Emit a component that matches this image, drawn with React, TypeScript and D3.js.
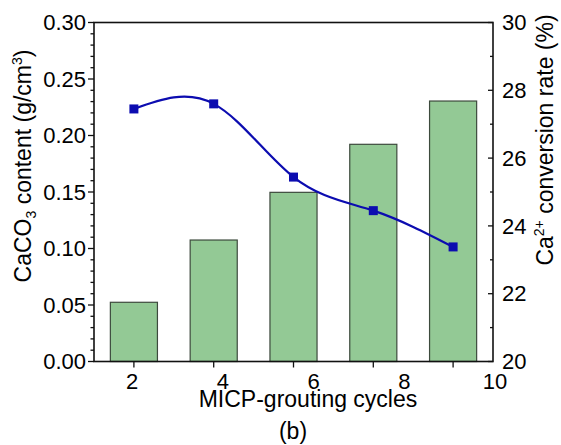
import React, { useRef, useEffect } from "react";
import * as d3 from "d3";

const cycles = [2, 4, 6, 8, 10];
const caco3Content = [0.0524, 0.1075, 0.1497, 0.1922, 0.2305];
const conversionRate = [27.45, 27.6, 25.44, 24.45, 23.38];
const leftTicks = [0, 0.05, 0.1, 0.15, 0.2, 0.25, 0.3];
const rightTicks = [20, 22, 24, 26, 28, 30];

const App = () => {
  const svgRef = useRef(null);

  const width = 561;
  const height = 445;
  const left = 94;
  const right = 493;
  const top = 22.5;
  const bottom = 361.5;
  const font = "Liberation Sans, Arial, sans-serif";

  useEffect(() => {
    if (!svgRef.current) return;
    const svg = d3.select(svgRef.current);
    svg.selectAll("*").remove();

    const x = d3
      .scaleBand<number>()
      .domain(cycles)
      .range([left, right])
      .paddingInner(0.41)
      .paddingOuter(0.205);

    // the tick labels in the original sit on their own spacing
    const xLabel = d3.scaleLinear().domain([2, 10]).range([132, 495]);

    const yLeft = d3.scaleLinear().domain([0, 0.3]).range([bottom, top]);
    const yRight = d3.scaleLinear().domain([20, 30]).range([bottom, top]);

    //bars
    svg
      .append("g")
      .selectAll("rect")
      .data(cycles)
      .enter()
      .append("rect")
      .attr("x", (d) => x(d)!)
      .attr("y", (d, i) => yLeft(caco3Content[i]))
      .attr("width", x.bandwidth())
      .attr("height", (d, i) => bottom - yLeft(caco3Content[i]))
      .style("fill", "#93c995")
      .style("stroke", "#3d4a3d")
      .style("stroke-width", 1.2);

    //frame
    svg
      .append("rect")
      .attr("x", left)
      .attr("y", top)
      .attr("width", right - left)
      .attr("height", bottom - top)
      .style("fill", "none")
      .style("stroke", "#111")
      .style("stroke-width", 1.6);

    //left axis ticks
    const leftMinor = d3.range(0, 0.3001, 0.01);
    svg
      .append("g")
      .selectAll("line")
      .data(leftMinor)
      .enter()
      .append("line")
      .attr("x1", left)
      .attr("x2", (d) => (Math.round(d * 100) % 5 === 0 ? left - 6 : left - 3.5))
      .attr("y1", (d) => yLeft(d))
      .attr("y2", (d) => yLeft(d))
      .style("stroke", "#111")
      .style("stroke-width", 1.3);

    svg
      .append("g")
      .selectAll("text")
      .data(leftTicks)
      .enter()
      .append("text")
      .attr("x", left - 8)
      .attr("y", (d) => yLeft(d))
      .attr("dy", "0.35em")
      .attr("text-anchor", "end")
      .style("font-family", font)
      .style("font-size", "22px")
      .text((d) => d3.format(".2f")(d));

    //right axis ticks (inward)
    const rightMinor = d3.range(20, 30.01, 1);
    svg
      .append("g")
      .selectAll("line")
      .data(rightMinor)
      .enter()
      .append("line")
      .attr("x1", right)
      .attr("x2", (d) => (d % 2 === 0 ? right - 5 : right - 3))
      .attr("y1", (d) => yRight(d))
      .attr("y2", (d) => yRight(d))
      .style("stroke", "#111")
      .style("stroke-width", 1.3);

    svg
      .append("g")
      .selectAll("text")
      .data(rightTicks)
      .enter()
      .append("text")
      .attr("x", right + 9)
      .attr("y", (d) => yRight(d))
      .attr("dy", "0.35em")
      .style("font-family", font)
      .style("font-size", "22px")
      .text((d) => d);

    //bottom axis ticks
    svg
      .append("g")
      .selectAll("line")
      .data(cycles)
      .enter()
      .append("line")
      .attr("x1", (d) => x(d)! + x.bandwidth() / 2)
      .attr("x2", (d) => x(d)! + x.bandwidth() / 2)
      .attr("y1", bottom)
      .attr("y2", bottom + 6)
      .style("stroke", "#111")
      .style("stroke-width", 1.3);

    svg
      .append("g")
      .selectAll("text")
      .data(cycles)
      .enter()
      .append("text")
      .attr("x", (d) => xLabel(d))
      .attr("y", 389)
      .attr("text-anchor", "middle")
      .style("font-family", font)
      .style("font-size", "22px")
      .text((d) => d);

    //conversion rate line
    const line = d3
      .line<number>()
      .x((d, i) => x(cycles[i])! + x.bandwidth() / 2)
      .y((d) => yRight(d))
      .curve(d3.curveNatural);

    svg
      .append("path")
      .datum(conversionRate)
      .attr("d", line)
      .style("fill", "none")
      .style("stroke", "#0c0cb0")
      .style("stroke-width", 2.2);

    svg
      .append("g")
      .selectAll("rect")
      .data(conversionRate)
      .enter()
      .append("rect")
      .attr("x", (d, i) => x(cycles[i])! + x.bandwidth() / 2 - 4.5)
      .attr("y", (d) => yRight(d) - 4.5)
      .attr("width", 9)
      .attr("height", 9)
      .style("fill", "#0c0cb0");

    //axis titles
    svg
      .append("text")
      .attr("x", 308)
      .attr("y", 407)
      .attr("text-anchor", "middle")
      .style("font-family", font)
      .style("font-size", "23px")
      .text("MICP-grouting cycles");

    svg
      .append("text")
      .attr("x", 293)
      .attr("y", 439)
      .attr("text-anchor", "middle")
      .style("font-family", font)
      .style("font-size", "23px")
      .text("(b)");

    const leftTitle = svg
      .append("text")
      .attr("transform", "translate(31,166) rotate(-90)")
      .attr("text-anchor", "middle")
      .style("font-family", font)
      .style("font-size", "23px");
    leftTitle.append("tspan").text("CaCO");
    leftTitle.append("tspan").attr("dy", 5).style("font-size", "14px").text("3");
    leftTitle.append("tspan").attr("dy", -5).text(" content (g/cm");
    leftTitle.append("tspan").attr("dy", -9).style("font-size", "14px").text("3");
    leftTitle.append("tspan").attr("dy", 9).text(")");

    const rightTitle = svg
      .append("text")
      .attr("transform", "translate(553,140) rotate(-90)")
      .attr("text-anchor", "middle")
      .style("font-family", font)
      .style("font-size", "23px");
    rightTitle.append("tspan").text("Ca");
    rightTitle.append("tspan").attr("dy", -9).style("font-size", "14px").text("2+");
    rightTitle.append("tspan").attr("dy", 9).text(" conversion rate (%)");
  }, []);

  return (
    <svg
      ref={svgRef}
      width={width}
      height={height}
      style={{ position: "absolute", left: 0, top: 0, background: "#fff" }}
    />
  );
};

export default App;
